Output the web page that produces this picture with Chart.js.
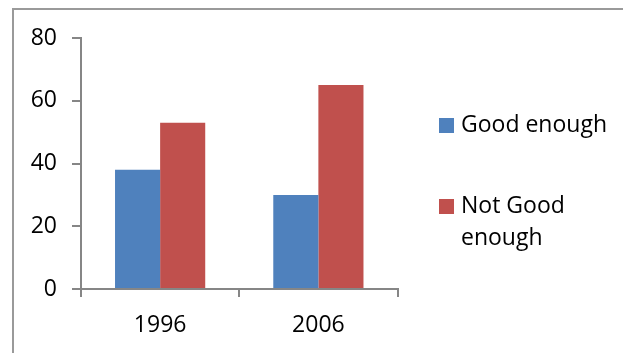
<!DOCTYPE html>
<html>
<head>
<meta charset="utf-8">
<script src="https://cdn.jsdelivr.net/npm/chart.js@4/dist/chart.umd.min.js"></script>
<style>
  html, body { margin: 0; padding: 0; background: #fff; overflow: hidden; }
  #wrap { position: relative; width: 623px; height: 353px; }
  #frame { position: absolute; left: 12px; top: 8px; width: 800px; height: 600px; border: 2px solid #9a9a9a; box-sizing: border-box; }
  #c { position: absolute; left: 0; top: 0; }
</style>
</head>
<body>
<div id="wrap">
  <div id="frame"></div>
  <canvas id="c" width="623" height="353"></canvas>
</div>
<script>
const categories = ['1996', '2006'];
const goodEnough = [38, 30];
const notGoodEnough = [53, 65];
const seriesNames = ['Good enough', 'Not Good enough'];
const legendLines = [['Good enough', ''], ['Not Good', 'enough']];
const seriesColors = ['#4F81BD', '#C0504D'];
const yMin = 0, yMax = 80, yStep = 20;

const FONT = { family: '"Open Sans", sans-serif', size: 23 };
const AXIS = '#868686';

new Chart(document.getElementById('c'), {
  type: 'bar',
  data: {
    labels: categories,
    datasets: [
      { label: seriesNames[0], data: goodEnough, backgroundColor: seriesColors[0] },
      { label: seriesNames[1], data: notGoodEnough, backgroundColor: seriesColors[1] }
    ]
  },
  options: {
    responsive: false,
    animation: false,
    devicePixelRatio: 1,
    layout: { padding: { top: 38, left: 0, right: 6, bottom: 18 } },
    datasets: { bar: { categoryPercentage: 0.57, barPercentage: 1.0 } },
    scales: {
      x: {
        grid: { display: true, drawOnChartArea: false, drawTicks: true, tickLength: 8, color: AXIS, lineWidth: 2, offset: true },
        border: { display: true, color: AXIS, width: 2 },
        ticks: { font: FONT, color: '#000', padding: 15 },
        afterFit: s => { s.height = 46; }
      },
      y: {
        min: yMin, max: yMax,
        grid: { display: true, drawOnChartArea: false, drawTicks: true, tickLength: 9, color: AXIS, lineWidth: 2 },
        border: { display: true, color: AXIS, width: 2 },
        ticks: { stepSize: yStep, font: FONT, color: '#000', padding: 15 },
        afterFit: s => { s.width = 81; }
      },
      gap: {
        position: 'right', display: true,
        grid: { display: false }, border: { display: false }, ticks: { display: false },
        afterFit: s => { s.width = 29; }
      }
    },
    plugins: {
      tooltip: { enabled: false },
      legend: {
        position: 'right',
        align: 'center',
        maxWidth: 400,
        labels: {
          font: Object.assign({}, FONT, { lineHeight: 32 / 23 }),
          color: '#000',
          usePointStyle: true,
          boxWidth: 6,
          boxHeight: 15,
          padding: 17,
          generateLabels: chart => chart.data.datasets.map((ds, i) => ({
            text: legendLines[i],
            fillStyle: ds.backgroundColor,
            strokeStyle: ds.backgroundColor,
            lineWidth: 0,
            pointStyle: 'rect',
            rotation: 0,
            hidden: false,
            datasetIndex: i
          }))
        }
      }
    }
  }
});
</script>
</body>
</html>
